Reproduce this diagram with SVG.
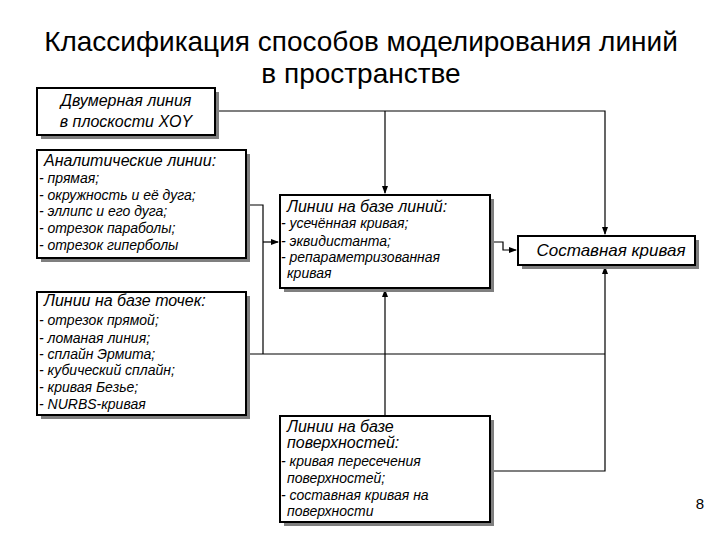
<svg xmlns="http://www.w3.org/2000/svg" width="720" height="540" viewBox="0 0 720 540">
<defs>
<marker id="arr" markerWidth="8" markerHeight="6" refX="7" refY="3" orient="auto" markerUnits="userSpaceOnUse">
<path d="M0,0 L8,3 L0,6 Z" fill="#000"/>
</marker>
</defs>
<style>
.box{fill:#fff;stroke:#000;stroke-width:2}
.sh{fill:#7f7f7f}
.t{font-family:"Liberation Sans",Arial,sans-serif;font-style:italic;fill:#000}
.h{font-size:16px}
.i{font-size:14px}
.ttl{font-family:"Liberation Sans",Arial,sans-serif;font-size:28px;fill:#000;text-anchor:middle}
.c{fill:none;stroke:#000;stroke-width:1.2}
</style>
<text class="ttl" x="361" y="51">Классификация способов моделирования линий</text>
<text class="ttl" x="361" y="83">в пространстве</text>
<text x="700" y="509" style="font-family:'Liberation Sans',Arial,sans-serif;font-size:15px" text-anchor="middle">8</text>

<g id="connectors">
<path class="c" d="M215,111 H605 V234" marker-end="url(#arr)"/>
<path class="c" d="M385,111 V193" marker-end="url(#arr)"/>
<path class="c" d="M246,205 H263 V354"/>
<path class="c" d="M263,242 H278" marker-end="url(#arr)"/>
<path class="c" d="M246,354 H605"/>
<path class="c" d="M490,471 H605 V267" marker-end="url(#arr)"/>
<path class="c" d="M385,416 V290" marker-end="url(#arr)"/>
<path class="c" d="M490,242 H503 V250 H516" marker-end="url(#arr)"/>
</g>

<g id="n1">
<rect class="sh" x="41" y="92" width="178" height="47"/>
<rect class="box" x="37" y="88" width="178" height="47"/>
<text class="t h" x="126" y="106" text-anchor="middle">Двумерная линия</text>
<text class="t h" x="126" y="127" text-anchor="middle">в плоскости XOY</text>
</g>

<g id="n2">
<rect class="sh" x="41" y="154" width="209" height="108"/>
<rect class="box" x="37" y="150" width="209" height="108"/>
<text class="t h" x="44" y="166">Аналитические линии:</text>
<text class="t i" x="39" y="183">- прямая;</text>
<text class="t i" x="39" y="200">- окружность и её дуга;</text>
<text class="t i" x="39" y="216">- эллипс и его дуга;</text>
<text class="t i" x="39" y="233">- отрезок параболы;</text>
<text class="t i" x="39" y="250">- отрезок гиперболы</text>
</g>

<g id="n3">
<rect class="sh" x="41" y="296" width="209" height="123"/>
<rect class="box" x="37" y="292" width="209" height="123"/>
<text class="t h" x="44" y="306">Линии на базе точек:</text>
<text class="t i" x="39" y="325">- отрезок прямой;</text>
<text class="t i" x="39" y="343">- ломаная линия;</text>
<text class="t i" x="39" y="359">- сплайн Эрмита;</text>
<text class="t i" x="39" y="375">- кубический сплайн;</text>
<text class="t i" x="39" y="392">- кривая Безье;</text>
<text class="t i" x="39" y="409">- NURBS-кривая</text>
</g>

<g id="n4">
<rect class="sh" x="284" y="199" width="210" height="93"/>
<rect class="box" x="280" y="195" width="210" height="93"/>
<text class="t h" x="287" y="212">Линии на базе линий:</text>
<text class="t i" x="281" y="228">- усечённая кривая;</text>
<text class="t i" x="281" y="246">- эквидистанта;</text>
<text class="t i" x="281" y="262">- репараметризованная</text>
<text class="t i" x="287" y="278">кривая</text>
</g>

<g id="n5">
<rect class="sh" x="522" y="240" width="177" height="29"/>
<rect class="box" x="518" y="236" width="177" height="29"/>
<text class="t" style="font-size:17px" x="611" y="256" text-anchor="middle">Составная кривая</text>
</g>

<g id="n6">
<rect class="sh" x="284" y="420" width="210" height="106"/>
<rect class="box" x="280" y="416" width="210" height="106"/>
<text class="t h" x="287" y="432">Линии на базе</text>
<text class="t h" x="287" y="448">поверхностей:</text>
<text class="t i" x="281" y="466">- кривая пересечения</text>
<text class="t i" x="287" y="483">поверхностей;</text>
<text class="t i" x="281" y="500">- составная кривая на</text>
<text class="t i" x="287" y="516">поверхности</text>
</g>
</svg>
